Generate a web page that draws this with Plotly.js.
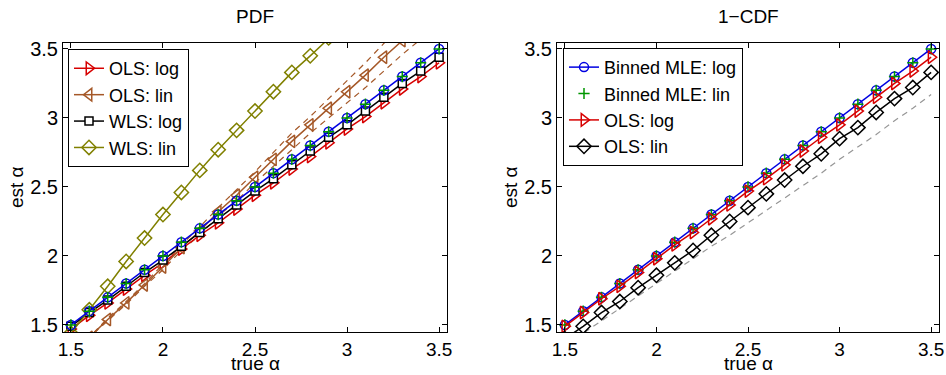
<!DOCTYPE html>
<html>
<head>
<meta charset="utf-8">
<script src="https://cdn.plot.ly/plotly-3.0.1.min.js"></script>
<style>html,body{margin:0;padding:0;background:#fff;}#chart{width:946px;height:375px;}</style>
</head>
<body>
<div id="chart"></div>
<script>
// true alpha grid
const trueAlpha = [1.5,1.6,1.7,1.8,1.9,2.0,2.1,2.2,2.3,2.4,2.5,2.6,2.7,2.8,2.9,3.0,3.1,3.2,3.3,3.4,3.5];

// PDF panel series
const pdfMleLog = [1.50,1.60,1.70,1.80,1.90,2.00,2.10,2.20,2.30,2.40,2.50,2.60,2.70,2.80,2.90,3.00,3.10,3.20,3.30,3.40,3.50];
const pdfMleLin = [1.50,1.60,1.70,1.80,1.90,2.00,2.10,2.20,2.30,2.40,2.50,2.60,2.70,2.80,2.90,3.00,3.10,3.20,3.30,3.40,3.50];
const pdfOlsLog = [1.47,1.57,1.66,1.76,1.86,1.95,2.05,2.15,2.24,2.34,2.44,2.53,2.63,2.72,2.82,2.92,3.01,3.11,3.21,3.30,3.40];
const pdfOlsLin = [1.27,1.41,1.54,1.66,1.79,1.92,2.06,2.18,2.32,2.44,2.57,2.70,2.83,2.95,3.07,3.19,3.31,3.44,3.56,3.68,3.80];
const pdfOlsLinHi = [1.27,1.41,1.55,1.67,1.80,1.94,2.08,2.21,2.35,2.48,2.61,2.75,2.89,3.01,3.14,3.27,3.40,3.54,3.66,3.79,3.92];
const pdfOlsLinLo = [1.27,1.41,1.53,1.65,1.78,1.90,2.04,2.15,2.29,2.40,2.53,2.65,2.77,2.89,3.00,3.11,3.22,3.34,3.46,3.57,3.68];
const pdfWlsLog = [1.49,1.59,1.68,1.78,1.88,1.97,2.07,2.17,2.27,2.37,2.47,2.56,2.66,2.76,2.86,2.95,3.05,3.15,3.25,3.34,3.44];
const pdfWlsLin = [1.44,1.61,1.78,1.96,2.13,2.30,2.46,2.62,2.77,2.91,3.05,3.19,3.33,3.45,3.58,3.70,3.82,3.94,4.05,4.16,4.27];

// 1-CDF panel series
const cdfMleLog = [1.50,1.60,1.70,1.80,1.90,2.00,2.10,2.20,2.30,2.40,2.50,2.60,2.70,2.80,2.90,3.00,3.10,3.20,3.30,3.40,3.50];
const cdfMleLin = [1.50,1.60,1.70,1.80,1.90,2.00,2.10,2.20,2.30,2.40,2.50,2.60,2.70,2.80,2.90,3.00,3.10,3.20,3.30,3.40,3.50];
const cdfOlsLog = [1.49,1.59,1.69,1.78,1.88,1.98,2.08,2.17,2.27,2.37,2.47,2.56,2.66,2.76,2.86,2.95,3.05,3.15,3.25,3.34,3.44];
const cdfOlsLin = [1.40,1.49,1.59,1.67,1.77,1.86,1.95,2.04,2.15,2.25,2.35,2.45,2.55,2.65,2.74,2.85,2.93,3.04,3.14,3.22,3.33];
const cdfOlsLinRef = [1.37,1.44,1.53,1.62,1.71,1.80,1.89,1.98,2.07,2.15,2.24,2.33,2.42,2.51,2.60,2.70,2.79,2.88,2.98,3.07,3.17];

const tickVals = [1.5,2,2.5,3,3.5];
const tickText = ['1.5','2','2.5','3','3.5'];
const panelTitles = ['PDF','1\u2212CDF'];
const xLabel = 'true \u03b1';
const yLabel = 'est \u03b1';

const BLUE='rgb(0,0,225)', GREEN='rgb(0,150,0)', RED='rgb(215,0,0)', BROWN='rgb(165,88,40)', OLIVE='rgb(128,128,0)', BLACK='rgb(0,0,0)', GRAY='rgb(150,150,150)';
const FONT = '"Liberation Sans", Arial, Helvetica, sans-serif';

function tr(x, y, name, color, symbol, size, opts) {
  return Object.assign({
    type:'scatter', x:x, y:y, name:name, mode:'lines+markers',
    line:{color:color, width:1.5},
    marker:{symbol:symbol, size:size, color:color, line:{color:color, width:1.5}},
    cliponaxis:true
  }, opts||{});
}
function dash(x, y, color, xa, ya) {
  return {type:'scatter', x:x, y:y, mode:'lines', line:{color:color, width:1.2, dash:'6px,5px'}, showlegend:false, hoverinfo:'skip', xaxis:xa, yaxis:ya};
}

const data = [
  // PDF panel
  dash(trueAlpha, pdfOlsLinHi, BROWN, 'x', 'y'),
  dash(trueAlpha, pdfOlsLinLo, BROWN, 'x', 'y'),
  tr(trueAlpha, pdfOlsLog, 'OLS: log', RED, 'triangle-right-open', 11, {legend:'legend'}),
  tr(trueAlpha, pdfOlsLin, 'OLS: lin', BROWN, 'triangle-left-open', 11, {legend:'legend'}),
  tr(trueAlpha, pdfWlsLog, 'WLS: log', BLACK, 'square', 8, {legend:'legend', marker:{symbol:'square', size:8, color:'white', line:{color:BLACK, width:1.5}}}),
  tr(trueAlpha, pdfWlsLin, 'WLS: lin', OLIVE, 'diamond-open', 11, {legend:'legend'}),
  tr(trueAlpha, pdfMleLog, 'Binned MLE: log', BLUE, 'circle-open', 9, {showlegend:false}),
  tr(trueAlpha, pdfMleLin, 'Binned MLE: lin', GREEN, 'cross-thin-open', 8, {showlegend:false, mode:'markers'}),
  // 1-CDF panel
  dash(trueAlpha, cdfOlsLinRef, GRAY, 'x2', 'y2'),
  tr(trueAlpha, cdfMleLog, 'Binned MLE: log', BLUE, 'circle-open', 9, {xaxis:'x2', yaxis:'y2', legend:'legend2'}),
  tr(trueAlpha, cdfMleLin, 'Binned MLE: lin', GREEN, 'cross-thin-open', 8, {xaxis:'x2', yaxis:'y2', legend:'legend2', mode:'markers'}),
  tr(trueAlpha, cdfOlsLog, 'OLS: log', RED, 'triangle-right-open', 11, {xaxis:'x2', yaxis:'y2', legend:'legend2'}),
  tr(trueAlpha, cdfOlsLin, 'OLS: lin', BLACK, 'diamond-open', 11, {xaxis:'x2', yaxis:'y2', legend:'legend2'})
];

function xax(domain) {
  return {domain:domain, range:[1.457,3.543], tickvals:tickVals, ticktext:tickText,
    ticks:'inside', ticklen:5, tickcolor:'#000', showline:true, linecolor:'#000', linewidth:1,
    mirror:'ticks', showgrid:false, zeroline:false, automargin:false,
    tickfont:{size:19, family:FONT, color:'#000'}};
}
function yax(anchor) {
  return {domain:[0,1], anchor:anchor, range:[1.449,3.543], tickvals:tickVals, ticktext:tickText,
    ticks:'inside', ticklen:5, tickcolor:'#000', showline:true, linecolor:'#000', linewidth:1,
    mirror:'ticks', showgrid:false, zeroline:false, automargin:false,
    tickfont:{size:20, family:FONT, color:'#000'}};
}

const legendBase = {bgcolor:'white', bordercolor:'#000', borderwidth:1, font:{size:18, family:FONT, color:'#000'},
  xanchor:'left', yanchor:'top', tracegroupgap:0, itemwidth:30};

const tf = {size:19, family:FONT, color:'#000'};
function ann(text, px, py, rot, yanchor) {
  return {text:text, xref:'paper', yref:'paper', x:px/946, y:1-(py-43)/289, xanchor:'center', yanchor:yanchor||'middle', showarrow:false, textangle:rot||0, font:tf, borderpad:0};
}

const layout = {
  width:946, height:375,
  margin:{l:0, r:0, t:43, b:43, pad:0},
  paper_bgcolor:'white', plot_bgcolor:'white',
  font:{family:FONT, size:20, color:'#000'},
  xaxis: Object.assign(xax([63/946, 447/946]), {anchor:'y'}),
  yaxis: yax('x'),
  xaxis2: Object.assign(xax([557/946, 939/946]), {anchor:'y2'}),
  yaxis2: yax('x2'),
  legend: Object.assign({}, legendBase, {x:68/946, y:0.979}),
  legend2: Object.assign({}, legendBase, {x:563/946, y:0.983}),
  annotations: [
    ann(panelTitles[0], 255, 17),
    ann(panelTitles[1], 748, 17),
    ann(xLabel, 255, 375, 0, 'bottom'),
    ann(xLabel, 748, 375, 0, 'bottom'),
    ann(yLabel, 16, 187, -90),
    ann(yLabel, 510, 187, -90)
  ],
  showlegend:true
};

Plotly.newPlot('chart', data, layout, {staticPlot:true, displayModeBar:false});
</script>
</body>
</html>
